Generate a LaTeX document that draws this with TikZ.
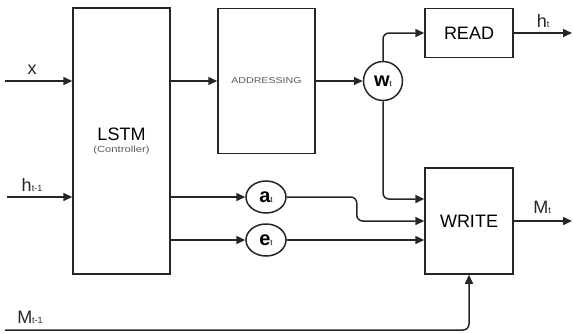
\documentclass[tikz,border=0pt]{standalone}
\usepackage{fontspec}
\setmainfont{Liberation Sans}
\usepackage{tikz}
\usetikzlibrary{arrows.meta,positioning,shapes.geometric}
\definecolor{ntmline}{HTML}{262626}
\definecolor{ntmgray}{HTML}{5A5A5A}
\newcommand{\biglbl}[2]{{\fontsize{18}{18}\selectfont #1}{\fontsize{9}{9}\selectfont #2}}
\newcommand{\circlbl}[2]{{\fontsize{20}{20}\selectfont\bfseries #1}{\fontsize{8}{8}\selectfont #2}}
\newcommand{\widetxt}[2]{\scalebox{1.25}[1]{\fontsize{#1}{#1}\selectfont\color{ntmgray}#2}}
\tikzset{
  ntmbox/.style={
    draw=ntmline, fill=white, line width=1.5pt,
    align=center, inner sep=2pt
  },
  ntmcirc/.style={
    draw=ntmline, ellipse, line width=1.5pt,
    minimum width=#1, minimum height=32pt, inner sep=0pt
  },
  ntmarr/.style={-{Triangle[length=9pt,width=8pt]}, draw=ntmline,
                 line width=1.5pt, rounded corners=6pt},
  ntmlbl/.style={inner sep=0pt, text=ntmline}
}
\begin{document}
\begin{tikzpicture}[x=1pt,y=-1pt]
  \useasboundingbox (0,0) rectangle (573,333);

  %% ---- Blocks ----
  \node[ntmbox, minimum width=97pt, minimum height=266pt] (lstm) at (121.5,141)
    {{\fontsize{18}{18}\selectfont LSTM}\\[0pt]
     \widetxt{9}{(Controller)}};
  \node[ntmbox, minimum width=97pt, minimum height=145pt] (addr) at (266.5,81)
    {\widetxt{8.5}{ADDRESSING}};
  \node[ntmbox, minimum width=88pt, minimum height=49pt] (read) at (469,33)
    {\fontsize{18}{18}\selectfont READ};
  \node[ntmbox, minimum width=88pt, minimum height=106pt] (write) at (469,221)
    {\fontsize{18}{18}\selectfont WRITE};

  %% ---- Weights and vectors ----
  \node[ntmcirc=39pt, minimum height=39pt] (wt) at (383,81) {\circlbl{w}{t}};
  \node[ntmcirc=40pt] (at) at (266,197) {\circlbl{a}{t}};
  \node[ntmcirc=40pt] (et) at (266,240) {\circlbl{e}{t}};

  %% ---- Inputs and outputs ----
  \coordinate (xin) at (5,81);
  \coordinate (hin) at (7,197);
  \coordinate (min) at (5,330);
  \coordinate (hout) at (572,33);
  \coordinate (mout) at (572,221);

  \node[ntmlbl] (xlbl) at (32,70) {\fontsize{18}{18}\selectfont x};
  \node[ntmlbl] (hlbl) at (32,185) {\biglbl{h}{t-1}};
  \node[ntmlbl] (mlbl) at (30,317) {\biglbl{M}{t-1}};
  \node[ntmlbl] (htlbl) at (543,21) {\biglbl{h}{t}};
  \node[ntmlbl] (mtlbl) at (542,207) {\biglbl{M}{t}};

  %% Connections
  \draw[ntmarr] (xin) -- (xin -| lstm.west);
  \draw[ntmarr] (hin) -- (hin -| lstm.west);
  \draw[ntmarr] (lstm.east |- addr.west) -- (addr.west);
  \draw[ntmarr] (lstm.east |- at.west) -- (at.west);
  \draw[ntmarr] (lstm.east |- et.west) -- (et.west);
  \draw[ntmarr] (addr.east |- wt.west) -- (wt.west);

  \draw[ntmarr] (wt.north) |- (read.west);
  \draw[ntmarr] (wt.south) |- ([yshift=22pt]write.west);
  \draw[ntmarr] (at.east) -- ++(70,0) |- (write.west);
  \draw[ntmarr] (et.east) -- (et.east -| write.west);
  \draw[ntmarr] (min) -| (write.south);

  \draw[ntmarr] (read.east) -- (hout);
  \draw[ntmarr] (write.east) -- (mout);

\end{tikzpicture}
\end{document}
